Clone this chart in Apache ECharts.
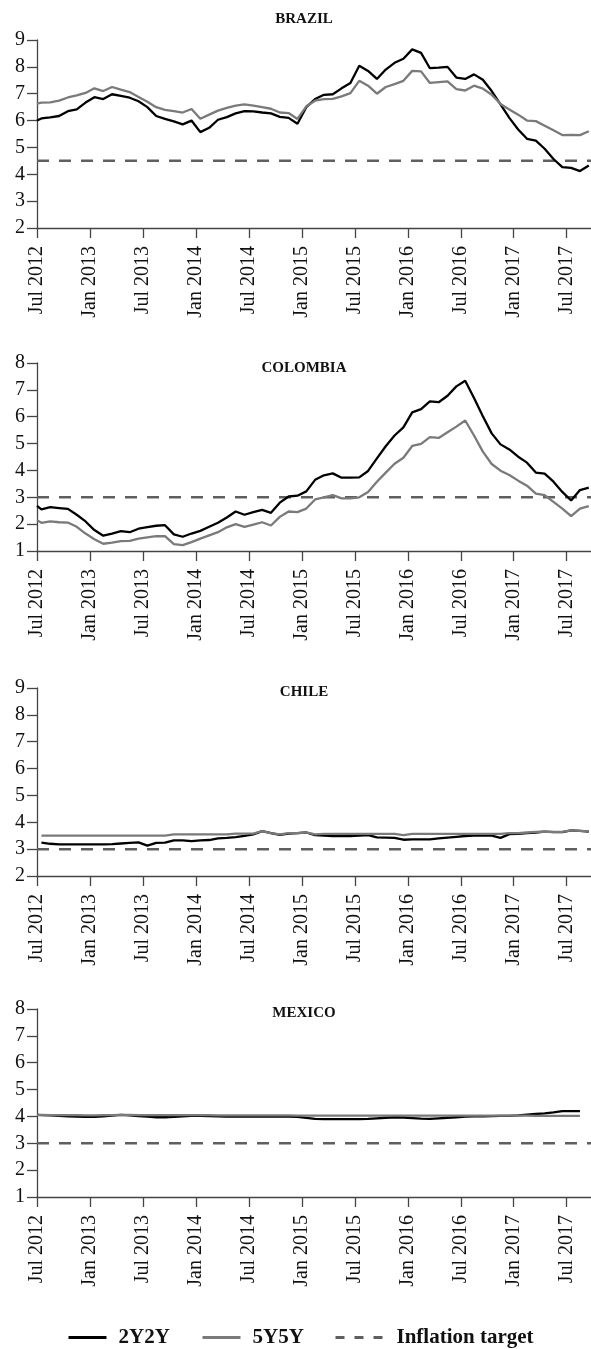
<!DOCTYPE html>
<html><head><meta charset="utf-8">
<script src="https://cdn.jsdelivr.net/npm/echarts@6/dist/echarts.min.js"></script>
<style>html,body{margin:0;padding:0;background:#fff}#c{width:591px;height:1349px}</style>
</head><body><div id="c"></div>
<script>
// x-axis tick labels (every 6 months from Jul 2012)
const tickLabels = ['Jul 2012','Jan 2013','Jul 2013','Jan 2014','Jul 2014','Jan 2015','Jul 2015','Jan 2016','Jul 2016','Jan 2017','Jul 2017'];
// observation dates, in months after 1 Jul 2012 (first obs at start, then mid-month)
const obsMonth = [0];
for (let i = 0; i < 63; i++) obsMonth.push(i + 0.5);

const countries = ['BRAZIL', 'COLOMBIA', 'CHILE', 'MEXICO'];
const targets = [4.5, 3, 3, 3];

const brazil2y = [6.0,6.08,6.12,6.17,6.35,6.42,6.67,6.87,6.8,6.98,6.92,6.85,6.72,6.5,6.17,6.06,5.97,5.86,6.0,5.57,5.73,6.03,6.13,6.27,6.35,6.34,6.3,6.27,6.14,6.1,5.88,6.5,6.8,6.96,6.98,7.2,7.4,8.04,7.85,7.55,7.9,8.15,8.3,8.65,8.52,7.95,7.97,8.0,7.6,7.55,7.72,7.52,7.1,6.6,6.1,5.67,5.32,5.25,4.95,4.57,4.27,4.24,4.12,4.33];
const brazil5y = [6.63,6.67,6.68,6.74,6.86,6.94,7.03,7.2,7.1,7.25,7.15,7.06,6.88,6.7,6.5,6.4,6.35,6.3,6.43,6.07,6.22,6.37,6.47,6.56,6.6,6.56,6.5,6.44,6.3,6.28,6.06,6.53,6.74,6.8,6.81,6.9,7.02,7.48,7.3,7.0,7.25,7.36,7.48,7.85,7.83,7.4,7.43,7.46,7.17,7.12,7.3,7.19,6.96,6.62,6.41,6.22,6.0,5.98,5.81,5.64,5.46,5.47,5.46,5.6];
const colombia2y = [2.68,2.55,2.63,2.6,2.57,2.35,2.1,1.78,1.57,1.65,1.74,1.7,1.83,1.89,1.94,1.96,1.62,1.53,1.65,1.75,1.9,2.05,2.25,2.47,2.35,2.45,2.53,2.42,2.8,3.03,3.06,3.22,3.65,3.82,3.89,3.73,3.73,3.74,3.98,4.45,4.9,5.3,5.6,6.16,6.28,6.57,6.54,6.78,7.13,7.34,6.7,6.02,5.38,4.97,4.78,4.51,4.29,3.92,3.88,3.58,3.2,2.88,3.27,3.36];
const colombia5y = [2.15,2.05,2.1,2.07,2.06,1.9,1.65,1.44,1.27,1.31,1.37,1.38,1.46,1.51,1.55,1.55,1.26,1.22,1.33,1.46,1.58,1.7,1.88,2.0,1.9,1.98,2.07,1.95,2.27,2.47,2.45,2.58,2.92,3.0,3.08,2.96,2.96,3.0,3.2,3.58,3.92,4.25,4.47,4.91,4.99,5.24,5.21,5.42,5.63,5.86,5.3,4.7,4.24,3.99,3.83,3.62,3.43,3.14,3.08,2.83,2.58,2.3,2.58,2.67];
const chile2y = [null,3.24,3.2,3.18,3.18,3.18,3.18,3.18,3.18,3.19,3.21,3.23,3.25,3.13,3.23,3.24,3.33,3.33,3.3,3.33,3.34,3.4,3.42,3.45,3.49,3.55,3.67,3.6,3.53,3.58,3.6,3.62,3.52,3.5,3.49,3.49,3.49,3.5,3.52,3.44,3.43,3.42,3.35,3.36,3.36,3.36,3.4,3.43,3.46,3.49,3.5,3.5,3.5,3.42,3.56,3.57,3.6,3.62,3.65,3.63,3.63,3.7,3.68,3.65];
const chile5y = [null,3.5,3.5,3.5,3.5,3.5,3.5,3.5,3.5,3.5,3.5,3.5,3.5,3.5,3.5,3.5,3.55,3.55,3.55,3.55,3.55,3.55,3.55,3.58,3.58,3.58,3.67,3.6,3.55,3.6,3.6,3.62,3.55,3.57,3.57,3.57,3.57,3.57,3.57,3.57,3.57,3.57,3.52,3.57,3.57,3.57,3.57,3.57,3.57,3.57,3.57,3.57,3.57,3.57,3.6,3.6,3.62,3.64,3.65,3.64,3.64,3.7,3.68,3.66];
const mexico2y = [4.06,4.05,4.04,4.02,4.0,3.99,3.98,3.98,4.0,4.03,4.06,4.04,4.01,3.99,3.97,3.97,3.98,4.0,4.02,4.02,4.01,4.0,3.99,3.99,3.99,3.99,3.99,3.99,3.99,3.99,3.98,3.95,3.91,3.9,3.9,3.9,3.9,3.9,3.91,3.93,3.95,3.97,3.96,3.94,3.92,3.91,3.93,3.95,3.97,3.99,4.0,4.0,4.01,4.02,4.02,4.04,4.07,4.09,4.11,4.15,4.2,4.2,4.2,null];
const mexico5y = [4.06,4.06,4.05,4.05,4.05,4.05,4.04,4.04,4.05,4.05,4.06,4.06,4.05,4.05,4.05,4.05,4.05,4.05,4.05,4.05,4.05,4.04,4.04,4.04,4.04,4.04,4.04,4.04,4.04,4.04,4.03,4.03,4.03,4.03,4.03,4.03,4.03,4.03,4.03,4.03,4.03,4.03,4.03,4.03,4.03,4.03,4.03,4.03,4.03,4.03,4.03,4.03,4.03,4.03,4.03,4.03,4.03,4.02,4.02,4.02,4.02,4.02,4.02,null];

const series2y = [brazil2y, colombia2y, chile2y, mexico2y];
const series5y = [brazil5y, colombia5y, chile5y, mexico5y];
const yRanges = [[2, 9], [1, 8], [2, 9], [1, 8]];

const FONT = 'Liberation Serif';
const gridTops = [40, 363, 688, 1009];
const titleTops = [12, 361, 685, 1006];
const X_MAX = 62.75;

const chart = echarts.init(document.getElementById('c'), null, {renderer: 'canvas'});
const pair = (arr) => arr.map((v, i) => [obsMonth[i], v]);

const grids = [], xAxes = [], yAxes = [], series = [], titles = [];
countries.forEach((name, k) => {
  grids.push({left: 37, right: 0, top: gridTops[k], height: 188, containLabel: false});
  xAxes.push({
    type: 'value', gridIndex: k, min: 0, max: X_MAX, interval: 6,
    axisLine: {show: true, lineStyle: {color: '#444', width: 1.3}},
    axisTick: {show: true, length: 10, lineStyle: {color: '#444', width: 1.3}},
    splitLine: {show: false},
    axisLabel: {
      rotate: 90, margin: 18, fontSize: 20, fontFamily: FONT, color: '#111',
      showMaxLabel: false,
      formatter: (v) => (Math.abs(v % 6) < 1e-9 ? (tickLabels[Math.round(v / 6)] || '') : '')
    }
  });
  yAxes.push({
    type: 'value', gridIndex: k, min: yRanges[k][0], max: yRanges[k][1], interval: 1,
    axisLine: {show: true, lineStyle: {color: '#444', width: 1.3}},
    axisTick: {show: true, length: 10, lineStyle: {color: '#444', width: 1.3}},
    splitLine: {show: false},
    axisLabel: {margin: 12, fontSize: 20, fontFamily: FONT, color: '#111'}
  });
  titles.push({
    text: name, left: 304, top: titleTops[k], textAlign: 'center', padding: 0,
    textStyle: {fontSize: 15, fontWeight: 'bold', fontFamily: FONT, color: '#111'}
  });
  series.push({
    name: 'Inflation target', type: 'line', xAxisIndex: k, yAxisIndex: k,
    data: [[0, targets[k]], [X_MAX, targets[k]]], symbol: 'none', silent: true,
    itemStyle: {color: '#5f5f5f'},
    lineStyle: {color: '#5f5f5f', width: 2.5, type: [12, 10]}, z: 1
  });
  series.push({
    name: '2Y2Y', type: 'line', xAxisIndex: k, yAxisIndex: k,
    data: pair(series2y[k]), symbol: 'none', silent: true,
    itemStyle: {color: '#000'},
    lineStyle: {color: '#000', width: 2.3}, z: 2
  });
  series.push({
    name: '5Y5Y', type: 'line', xAxisIndex: k, yAxisIndex: k,
    data: pair(series5y[k]), symbol: 'none', silent: true,
    itemStyle: {color: '#7a7a7a'},
    lineStyle: {color: '#7a7a7a', width: 2.3}, z: 3
  });
});

const legendText = {fontSize: 21, fontWeight: 'bold', fontFamily: FONT, color: '#111', padding: [0, 0, 0, 7]};
const hiddenSymbol = {opacity: 0, borderWidth: 0};
chart.setOption({
  animation: false,
  backgroundColor: '#fff',
  title: titles,
  grid: grids, xAxis: xAxes, yAxis: yAxes, series: series,
  legend: [
    {data: ['2Y2Y'], left: 67, top: 1327, padding: 0, itemWidth: 38, itemHeight: 20, selectedMode: false,
     itemStyle: hiddenSymbol, lineStyle: {width: 3}, textStyle: legendText},
    {data: ['5Y5Y'], left: 201, top: 1327, padding: 0, itemWidth: 38, itemHeight: 20, selectedMode: false,
     itemStyle: hiddenSymbol, lineStyle: {width: 3}, textStyle: legendText},
    {data: ['Inflation target'], left: 334, top: 1327, padding: 0, itemWidth: 49, itemHeight: 20, selectedMode: false,
     itemStyle: hiddenSymbol, lineStyle: {width: 3, type: [9, 10]}, textStyle: legendText}
  ]
});
</script></body></html>
